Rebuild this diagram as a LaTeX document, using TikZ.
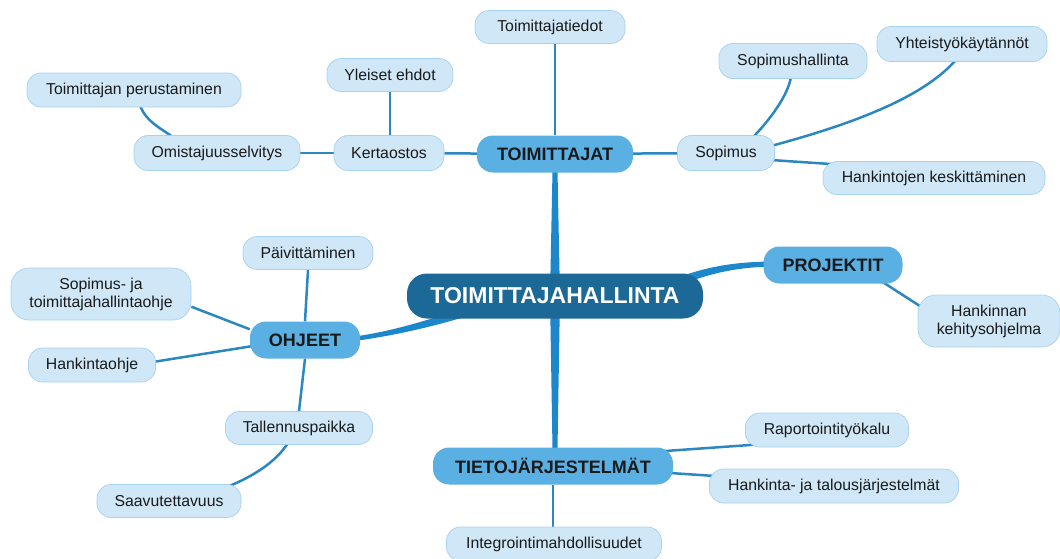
\documentclass[tikz,border=0pt]{standalone}
\usepackage{fontspec}
\setmainfont{Liberation Sans}
\usetikzlibrary{calc}
\definecolor{rootc}{HTML}{1C6896}
\definecolor{topc}{HTML}{5AAFE3}
\definecolor{leafc}{HTML}{CFE7F7}
\definecolor{leafb}{HTML}{A6D2EE}
\definecolor{linkc}{HTML}{2A87C2}
\definecolor{mainc}{HTML}{1D87CC}
\definecolor{txt}{HTML}{1A1A1A}
\pgfdeclarelayer{bg}
\pgfsetlayers{bg,main}
\begin{document}
\begin{tikzpicture}[x=1pt,y=-1pt,
  box/.style={align=center, inner sep=0pt, text=txt},
  leaf/.style={box, fill=leafc, draw=leafb, line width=0.7pt, rounded corners=14pt, minimum height=33pt, font=\fontsize{15.8}{18}\selectfont},
  leaftwo/.style={leaf, minimum height=52pt, rounded corners=18pt},
  topic/.style={box, fill=topc, rounded corners=16pt, minimum height=37pt, font=\bfseries\fontsize{18}{20}\selectfont},
  rootbox/.style={box, fill=rootc, text=white, rounded corners=20pt, minimum height=45pt, font=\bfseries\fontsize{23}{26}\selectfont},
  link/.style={draw=linkc, line width=2.5pt},
  trunk/.style={fill=mainc}
]
\useasboundingbox (0,0) rectangle (1060,558);

% root and main topics
\node[rootbox, minimum width=296pt] (root) at (555,296) {TOIMITTAJAHALLINTA};
\node[topic, minimum width=156pt] (toim) at (555,154) {TOIMITTAJAT};
\node[topic, minimum width=139pt] (proj) at (833,265) {PROJEKTIT};
\node[topic, minimum width=110pt] (ohj) at (305,340) {OHJEET};
\node[topic, minimum width=240pt] (tieto) at (553,466) {TIETOJÄRJESTELMÄT};

% TOIMITTAJAT branch
\node[leaf, minimum width=150pt] (tied) at (550,27) {Toimittajatiedot};
\node[leaf, minimum width=110pt, minimum height=35pt] (kert) at (389,153) {Kertaostos};
\node[leaf, minimum width=126pt] (ylei) at (390,75) {Yleiset ehdot};
\node[leaf, minimum width=166pt, minimum height=35pt] (omist) at (217,153) {Omistajuusselvitys};
\node[leaf, minimum width=214pt, minimum height=34pt] (perust) at (134,90) {Toimittajan perustaminen};
\node[leaf, minimum width=97pt, minimum height=35pt] (sop) at (726,153) {Sopimus};
\node[leaf, minimum width=148pt, minimum height=35pt] (sophall) at (793,61) {Sopimushallinta};
\node[leaf, minimum width=170pt, minimum height=35pt] (yht) at (962,44) {Yhteistyökäytännöt};
\node[leaf, minimum width=222pt] (keski) at (934,178) {Hankintojen keskittäminen};

% PROJEKTIT branch
\node[leaftwo, minimum width=142pt] (kehit) at (989,321) {Hankinnan\\kehitysohjelma};

% OHJEET branch
\node[leaf, minimum width=130pt] (paiv) at (308,253) {Päivittäminen};
\node[leaftwo, minimum width=180pt] (sopja) at (101,294) {Sopimus- ja\\toimittajahallintaohje};
\node[leaf, minimum width=127pt, minimum height=34pt] (hohje) at (92,365) {Hankintaohje};
\node[leaf, minimum width=147pt] (tall) at (299,428) {Tallennuspaikka};
\node[leaf, minimum width=144pt] (saav) at (169,501) {Saavutettavuus};

% TIETOJÄRJESTELMÄT branch
\node[leaf, minimum width=163pt, minimum height=34pt] (rap) at (827,430) {Raportointityökalu};
\node[leaf, minimum width=249pt, minimum height=34pt] (htal) at (834,486) {Hankinta- ja talousjärjestelmät};
\node[leaf, minimum width=215pt, minimum height=34pt] (integ) at (554,544) {Integrointimahdollisuudet};

\begin{pgfonlayer}{bg}
% tapered main connectors
\fill[trunk] ($(root.center)+(-5,0)$) -- ($(root.center|-toim.south)+(-2.5,-2)$) -- ($(root.center|-toim.south)+(2.5,-2)$) -- ($(root.center)+(5,0)$) -- cycle;
\fill[trunk] ($(root.center)+(-5,0)$) -- ($(root.center|-tieto.north)+(-2.5,2)$) -- ($(root.center|-tieto.north)+(2.5,2)$) -- ($(root.center)+(5,0)$) -- cycle;
\fill[trunk] ($(root.center)+(110,-13.5)$) .. controls ($(root.center)+(145,-28)$) and ($(proj.west)+(-34,-3)$) .. ($(proj.west)+(8,-3.5)$)
  -- ($(proj.west)+(8,1.5)$) .. controls ($(proj.west)+(-34,2.5)$) and ($(root.center)+(145,-20)$) .. ($(root.center)+(110,-4.5)$) -- cycle;
\fill[trunk] ($(root.center)+(-75,7.5)$) .. controls ($(root.center)+(-115,19.5)$) and ($(ohj.east)+(40,-9.5)$) .. ($(ohj.east)+(-8,-3.2)$)
  -- ($(ohj.east)+(-8,1.3)$) .. controls ($(ohj.east)+(40,-5)$) and ($(root.center)+(-115,28.5)$) .. ($(root.center)+(-75,16.5)$) -- cycle;

% TOIMITTAJAT links
\draw[link] (toim.north) -- (toim.north|-tied.south);
\draw[link] (kert) -- (toim);
\draw[link] (ylei.south) -- (ylei.south|-kert.north);
\draw[link] (omist) -- (kert);
\draw[link] ($(perust.south)+(6,-2)$) .. controls ($(perust.south)+(12,14)$) and ($(omist.north)+(-58,-8)$) .. ($(omist.north)+(-44,2)$);
\draw[link] (toim) -- (sop);
\draw[link] ($(sop.north)+(27,2)$) .. controls ($(sop.north)+(44,-15.5)$) and ($(sophall.south)+(-5,16.5)$) .. ($(sophall.south)+(-2,-2)$);
\draw[link] ($(sop.east)+(-4,-7)$) .. controls ($(sop.east)+(85.5,-31)$) and ($(yht.south)+(-37,33.5)$) .. ($(yht.south)+(-6,-2)$);
\draw[link] ($(sop.east)+(-4,7)$) -- ($(keski.west)+(8,-14)$);

% PROJEKTIT link
\draw[link] ($(proj.south)+(46,-4)$) -- ($(kehit.west)+(10,-10)$);

% OHJEET links
\draw[link] (paiv.south) -- (ohj.north);
\draw[link] (sopja.-8) -- (ohj.169);
\draw[link] ($(hohje.east)+(-3,-3)$) -- ($(ohj.west)+(3,6)$);
\draw[link] (ohj.south) -- (tall.north);
\draw[link] ($(tall.south)+(-11,-2)$) .. controls ($(tall.south)+(-23,17.5)$) and ($(saav.north)+(83,-7.5)$) .. ($(saav.north)+(60,2)$);

% TIETOJÄRJESTELMÄT links
\draw[link] ($(tieto.east)+(-8,-15)$) -- ($(rap.south west)+(14,-3)$);
\draw[link] ($(tieto.east)+(-3,7)$) -- ($(htal.west)+(6,-10)$);
\draw[link] (tieto.south) -- (tieto.south|-integ.north);
\end{pgfonlayer}
\end{tikzpicture}
\end{document}
